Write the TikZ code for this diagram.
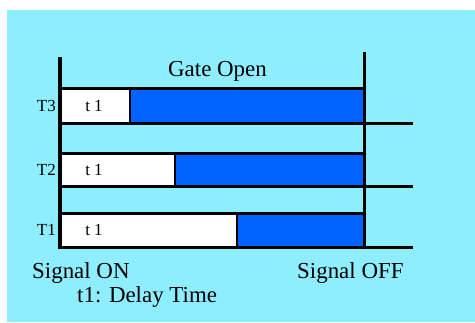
\documentclass[tikz,border=0pt]{standalone}
\usepackage{fontspec}
\setmainfont{Liberation Serif}
\usepackage{xcolor}
\definecolor{skybg}{HTML}{8EEEFE}
\definecolor{gateblue}{HTML}{0062FF}
\usetikzlibrary{positioning}
\tikzset{
  bigtxt/.style={font=\fontsize{23}{26}\selectfont,inner sep=0pt,anchor=base west},
  smalltxt/.style={font=\fontsize{17}{20}\selectfont,inner sep=0pt},
  bar/.style={draw=black,line width=3pt},
  tick/.style={draw=black,line width=3pt},
}

\begin{document}
\begin{tikzpicture}[x=1bp,y=-1bp]
  \useasboundingbox (0,0) rectangle (475,322);
  % background
  \fill[skybg] (7,10) rectangle (475,322);
  % gate bars
  \foreach \name/\top/\bot/\split in {T3/88/123/130,T2/153/186/175,T1/213/247/237}{
    \fill[white] (61,\top) rectangle (\split,\bot);
    \fill[gateblue] (\split,\top) rectangle (364,\bot);
    \draw[bar] (61,\top) rectangle (364,\bot) (\split,\top) -- (\split,\bot);
    \draw[tick] (354,\bot) -- (413,\bot);
    \node[smalltxt,anchor=east] (lbl\name) at (56,{(\top+\bot)/2}) {\name};
    \node[smalltxt] (t\name) at (94,{(\top+\bot)/2}) {t 1};
  }
  % on / off lines
  \coordinate (ontop) at (60,57);
  \coordinate (onbot) at (60,249);
  \coordinate (offtop) at (364,52);
  \coordinate (offbot) at (364,248);
  \draw[line width=3.4pt] (ontop) -- (onbot);
  \draw[line width=3pt] (offtop) -- (offbot);
  % texts
  \node[bigtxt] (gate) at (168,76) {Gate Open};
  \node[bigtxt] (son) at (32,278) {Signal ON};
  \node[bigtxt] (soff) at (297,278) {Signal OFF};
  \node[bigtxt] (delay) at (77,302) {t1: Delay Time};
\end{tikzpicture}
\end{document}
